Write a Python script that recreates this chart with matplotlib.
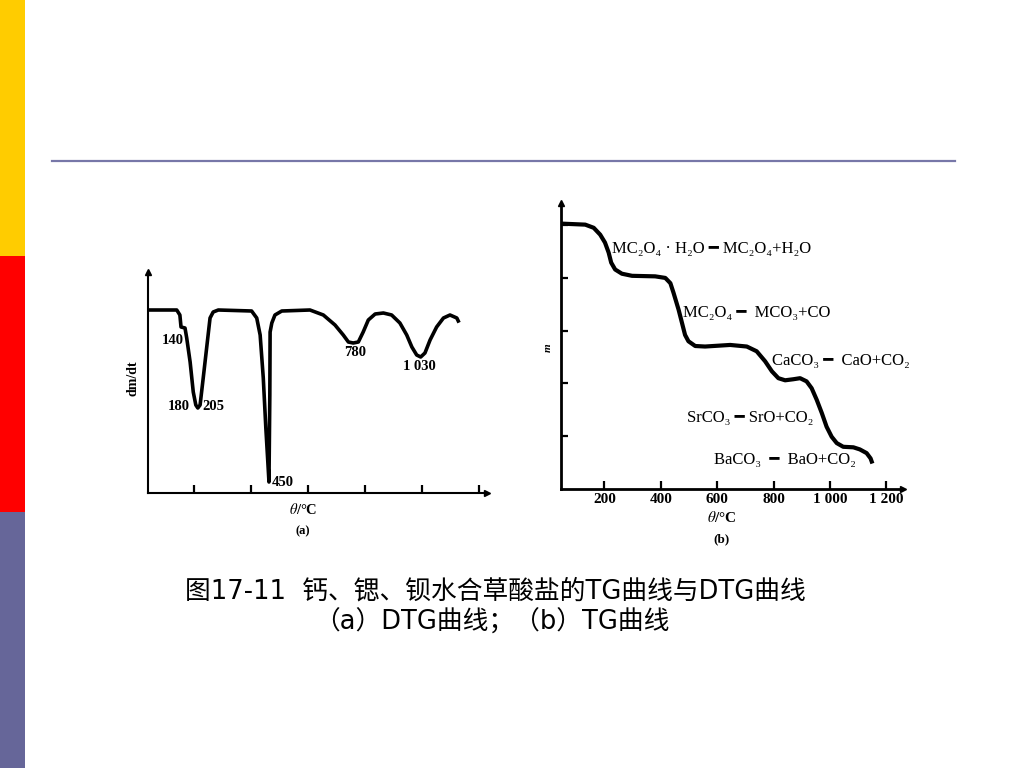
import matplotlib.pyplot as plt
from matplotlib.patches import Rectangle
from matplotlib.lines import Line2D

plt.rcParams['mathtext.fontset'] = 'stix'

W, H = 1024, 768

# (a) DTG curve, temperature in degC, dm/dt in arbitrary units (0 = baseline)
dtg_t = [37, 138, 149, 153, 167, 173, 185, 196, 205, 212, 220, 231, 247, 255, 266,
         284, 401, 419, 431, 442, 451, 458, 462, 465, 466, 472, 483, 507, 606, 653,
         694, 723, 741, 758, 776, 793, 811, 835, 864, 893, 922, 946, 964, 981, 995,
         1010, 1028, 1051, 1075, 1098, 1122, 1127]
dtg_v = [0, 0, -5, -17, -18, -28, -52, -82, -95, -98, -95, -68, -28, -8, -2,
         0, -1, -8, -25, -68, -118, -152, -172, -85, -22, -13, -5, -1, 0, -5,
         -15, -25, -32, -33, -32, -22, -10, -4, -3, -5, -13, -25, -37, -45, -47,
         -43, -30, -17, -8, -5, -8, -11]
dtg_ticks = [200, 400, 600, 800, 1000, 1200]
peak_labels = ["140", "180", "205", "450", "780", "1 030"]
peak_t = [125, 146, 267, 510, 763, 989]
peak_v = [-30, -97, -97, -173, -43, -57]

# (b) TG curve, temperature in degC, mass in arbitrary units
tg_t = [44, 132, 162, 185, 202, 215, 224, 238, 262, 298, 380, 416, 434, 445, 463,
        475, 486, 498, 522, 557, 646, 705, 740, 770, 794, 817, 841, 870, 894, 917,
        935, 953, 971, 988, 1006, 1024, 1047, 1083, 1106, 1130, 1144, 1148]
tg_m = [5.03, 5.01, 4.95, 4.82, 4.67, 4.48, 4.29, 4.16, 4.08, 4.04, 4.03, 4.00, 3.90,
        3.72, 3.40, 3.15, 2.92, 2.80, 2.71, 2.70, 2.73, 2.70, 2.61, 2.42, 2.23, 2.10,
        2.06, 2.08, 2.10, 2.04, 1.91, 1.69, 1.44, 1.18, 0.99, 0.87, 0.80, 0.79, 0.75,
        0.68, 0.58, 0.52]
tg_xticks = [200, 400, 600, 800, 1000, 1200]
tg_xticklabels = ["200", "400", "600", "800", "1 000", "1 200"]
tg_yticks = [1, 2, 3, 4, 5]
reactions = ["MC₂O₄ · H₂O ━ MC₂O₄+H₂O",
             "MC₂O₄ ━  MCO₃+CO",
             "CaCO₃ ━  CaO+CO₂",
             "SrCO₃ ━ SrO+CO₂",
             "BaCO₃  ━  BaO+CO₂"]
reaction_t = [227, 479, 794, 492, 589]
reaction_m = [4.54, 3.34, 2.42, 1.34, 0.55]

caption1 = "图17-11  钙、锶、钡水合草酸盐的TG曲线与DTG曲线"
caption2 = "（a）DTG曲线；（b）TG曲线"

serif = ['Liberation Serif', 'DejaVu Serif', 'DejaVu Sans']
cjk = ['DejaVu Sans', 'Noto Sans CJK SC']


def fx(px):
    return px / W


def fy(py):
    return 1 - py / H


fig = plt.figure(figsize=(W / 100, H / 100), dpi=100)
fig.patch.set_facecolor('white')

# slide decoration
for top, col in [(0, '#FFCC00'), (256, '#FF0000'), (512, '#666699')]:
    fig.add_artist(Rectangle((0, fy(top + 256)), fx(25), 256 / H,
                             transform=fig.transFigure, color=col, lw=0))
fig.add_artist(Line2D([fx(52), fx(955)], [fy(161), fy(161)],
                      transform=fig.transFigure, color='#7777A8', lw=1.6))


def style_axes(ax, lw):
    for s in ['top', 'right']:
        ax.spines[s].set_visible(False)
    for s in ['left', 'bottom']:
        ax.spines[s].set_linewidth(lw)
    ax.patch.set_alpha(0)
    # arrow heads on axis ends
    ax.plot(1, 0, '>', color='k', ms=4, transform=ax.transAxes, clip_on=False)
    ax.plot(0, 1, '^', color='k', ms=4, transform=ax.transAxes, clip_on=False)


# ---- (a) DTG ----
ax1 = fig.add_axes([fx(148), fy(493), fx(487) - fx(148), fy(272) - fy(493)])
ax1.plot(dtg_t, dtg_v, color='k', lw=2.6, solid_joinstyle='round')
ax1.set_xlim(37, 1228)
ax1.set_ylim(-183, 38)
style_axes(ax1, 1.5)
ax1.set_xticks(dtg_ticks)
ax1.set_xticklabels([])
ax1.set_yticks([])
ax1.tick_params(axis='x', direction='in', length=6, width=1.6)
for lab, t, v in zip(peak_labels, peak_t, peak_v):
    ax1.text(t, v, lab, ha='center', va='center', fontsize=10.5,
             family=serif, weight='bold')
fig.text(fx(133), fy(378), "dm/dt", rotation=90, ha='center', va='center',
         fontsize=10, family=serif, weight='bold')
fig.text(fx(303), fy(510), r"$\theta$/°C", ha='center', va='center',
         fontsize=10.5, family=serif, weight='bold')
fig.text(fx(303), fy(531), "(a)", ha='center', va='center',
         fontsize=9, family=serif, weight='bold')

# ---- (b) TG ----
ax2 = fig.add_axes([fx(561), fy(489), fx(903) - fx(561), fy(203) - fy(489)])
ax2.plot(tg_t, tg_m, color='k', lw=3.0, solid_joinstyle='round')
ax2.set_xlim(46, 1259)
ax2.set_ylim(0, 5.42)
style_axes(ax2, 2.0)
ax2.set_xticks(tg_xticks)
ax2.set_xticklabels(tg_xticklabels, family=serif, weight='bold', fontsize=11)
ax2.set_yticks(tg_yticks)
ax2.set_yticklabels([])
ax2.tick_params(axis='x', direction='in', length=6, width=1.6, pad=3)
ax2.tick_params(axis='y', direction='in', length=5, width=1.6)
for lab, t, m in zip(reactions, reaction_t, reaction_m):
    ax2.text(t, m, lab, ha='left', va='center', fontsize=12, family=serif)
fig.text(fx(548), fy(348), "m", rotation=90, ha='center', va='center',
         fontsize=8, family=serif, style='italic', weight='bold')
fig.text(fx(722), fy(518), r"$\theta$/°C", ha='center', va='center',
         fontsize=11, family=serif, weight='bold')
fig.text(fx(722), fy(539), "(b)", ha='center', va='center',
         fontsize=9.5, family=serif, weight='bold')

# caption
fig.text(fx(495), fy(592), caption1, ha='center', va='center', fontsize=18.5,
         family=cjk)
fig.text(fx(492), fy(623), caption2, ha='center', va='center', fontsize=18.5,
         family=cjk)

fig.savefig('out.png', dpi=100)
